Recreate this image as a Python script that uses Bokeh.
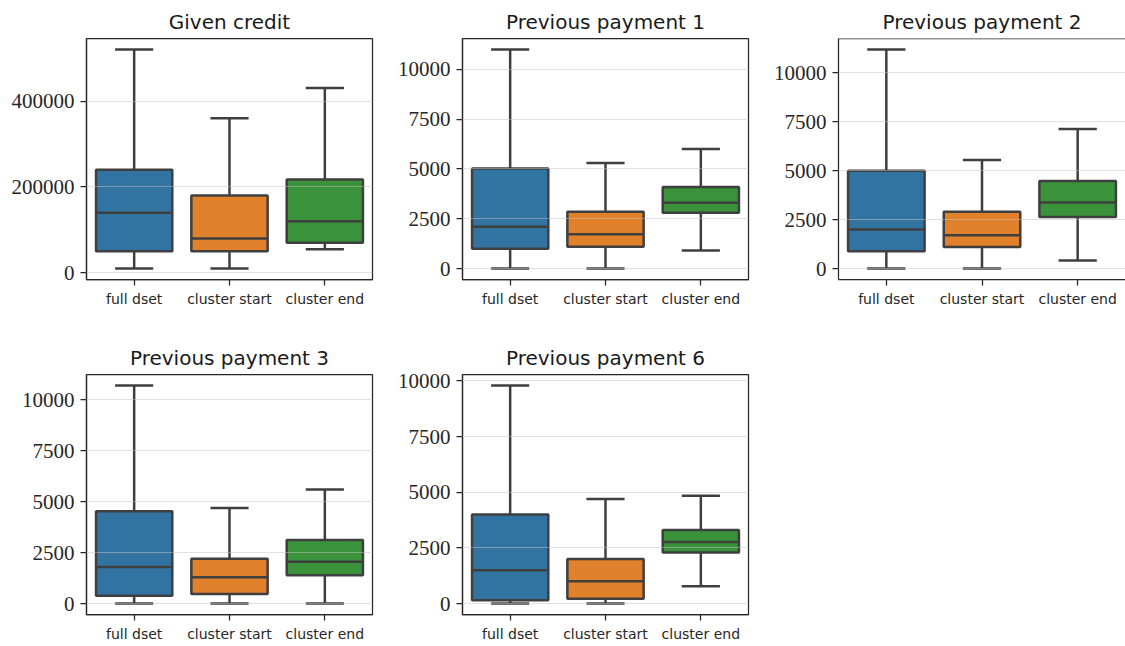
from bokeh.plotting import figure
from bokeh.models import ColumnDataSource, Range1d, SingleIntervalTicker, BasicTickFormatter, Span, Title
from bokeh.layouts import row, column
from bokeh.transform import dodge
from bokeh.embed import file_html
from bokeh.resources import INLINE

# Groups compared in every panel
categories = ["full dset", "cluster start", "cluster end"]
box_colors = ["#3274a1", "#e1812c", "#3a923a"]

# Box-plot statistics per variable: lower whisker, Q1, median, Q3, upper whisker
titles = ["Given credit", "Previous payment 1", "Previous payment 2",
          "Previous payment 3", "Previous payment 6"]

credit_low = [10000, 10000, 55000]
credit_q1 = [50000, 50000, 70000]
credit_med = [140000, 80000, 120000]
credit_q3 = [240000, 180000, 217000]
credit_high = [520000, 360000, 430000]

pay1_low = [0, 0, 900]
pay1_q1 = [1000, 1100, 2800]
pay1_med = [2100, 1720, 3300]
pay1_q3 = [5020, 2850, 4090]
pay1_high = [11000, 5300, 6000]

pay2_low = [0, 0, 410]
pay2_q1 = [880, 1100, 2630]
pay2_med = [2000, 1700, 3370]
pay2_q3 = [5000, 2900, 4470]
pay2_high = [11200, 5550, 7130]

pay3_low = [0, 0, 0]
pay3_q1 = [390, 470, 1390]
pay3_med = [1790, 1290, 2050]
pay3_q3 = [4530, 2200, 3120]
pay3_high = [10700, 4690, 5600]

pay6_low = [0, 0, 780]
pay6_q1 = [150, 220, 2290]
pay6_med = [1500, 1000, 2770]
pay6_q3 = [4000, 2000, 3300]
pay6_high = [9800, 4700, 4840]

tick_steps = [200000, 2500, 2500, 2500, 2500]

stats = [
    (credit_low, credit_q1, credit_med, credit_q3, credit_high),
    (pay1_low, pay1_q1, pay1_med, pay1_q3, pay1_high),
    (pay2_low, pay2_q1, pay2_med, pay2_q3, pay2_high),
    (pay3_low, pay3_q1, pay3_med, pay3_q3, pay3_high),
    (pay6_low, pay6_q1, pay6_med, pay6_q3, pay6_high),
]

INK = "#262626"
EDGE = "#3f3f3f"


def make_panel(title, st, step, top_border, bottom_border, frame_h, right_border, frame_w, last_col=False):
    low, q1, med, q3, high = st
    lo, hi = min(low), max(high)
    pad = 0.05 * (hi - lo)
    p = figure(x_range=categories, y_range=Range1d(lo - pad, hi + pad),
               frame_width=frame_w, frame_height=frame_h,
               min_border_left=86, min_border_right=right_border,
               min_border_top=top_border, min_border_bottom=bottom_border,
               output_backend="svg", toolbar_location=None, tools="")
    p.title = Title(text=title, align="center", text_font="DejaVu Sans",
                    text_font_size="20px", text_font_style="normal",
                    text_color="#1a1a1a", standoff=9)

    src = ColumnDataSource(dict(cat=categories, low=low, q1=q1, med=med,
                                q3=q3, high=high, color=box_colors))

    # whiskers and caps
    p.segment(x0="cat", y0="q3", x1="cat", y1="high", source=src,
              line_color=EDGE, line_width=2.5)
    p.segment(x0="cat", y0="low", x1="cat", y1="q1", source=src,
              line_color=EDGE, line_width=2.5)
    for col in ("high", "low"):
        p.segment(x0=dodge("cat", -0.2, range=p.x_range), y0=col,
                  x1=dodge("cat", 0.2, range=p.x_range), y1=col, source=src,
                  line_color=EDGE, line_width=2.5)
    # boxes
    p.vbar(x="cat", width=0.8, bottom="q1", top="q3", source=src,
           fill_color="color", line_color=EDGE, line_width=2.5)
    # medians
    p.segment(x0=dodge("cat", -0.4, range=p.x_range), y0="med",
              x1=dodge("cat", 0.4, range=p.x_range), y1="med", source=src,
              line_color=EDGE, line_width=2.5)

    p.yaxis.ticker = SingleIntervalTicker(interval=step)
    p.yaxis.formatter = BasicTickFormatter(use_scientific=False)
    p.xgrid.visible = False
    p.ygrid.grid_line_color = "#c4c4c4"
    p.ygrid.grid_line_alpha = 0.5
    p.ygrid.grid_line_width = 1
    p.ygrid.level = "overlay"

    for ax in (p.xaxis[0], p.yaxis[0]):
        ax.axis_line_color = INK
        ax.axis_line_width = 1.25
        ax.major_tick_line_color = INK
        ax.major_tick_line_width = 1.25
        ax.major_tick_out = 6
        ax.major_tick_in = 0
        ax.minor_tick_line_color = None
    p.yaxis.major_label_text_font = "Liberation Serif"
    p.yaxis.major_label_text_font_size = "21px"
    p.yaxis.major_label_text_color = INK
    p.yaxis.major_label_standoff = 6
    p.xaxis.major_label_text_font = "DejaVu Sans"
    p.xaxis.major_label_text_font_size = "14px"
    p.xaxis.major_label_text_color = INK
    p.xaxis.major_label_standoff = 5

    if last_col:
        p.outline_line_color = None
        p.add_layout(Span(location=hi + pad, dimension="width",
                          line_color=INK, line_width=1.25))
    else:
        p.outline_line_color = INK
        p.outline_line_width = 1.25
        p.outline_line_alpha = 1.0
    return p


p1 = make_panel(titles[0], stats[0], tick_steps[0], 38, 45, 241, 4, 286)
p2 = make_panel(titles[1], stats[1], tick_steps[1], 38, 45, 241, 4, 286)
p3 = make_panel(titles[2], stats[2], tick_steps[2], 38, 45, 241, 0, 287, last_col=True)
p4 = make_panel(titles[3], stats[3], tick_steps[3], 50, 31, 240, 4, 286)
p5 = make_panel(titles[4], stats[4], tick_steps[4], 50, 31, 240, 4, 286)

page = column(row(p1, p2, p3), row(p4, p5))

with open("out.html", "w") as f:
    f.write(file_html(page, INLINE))
